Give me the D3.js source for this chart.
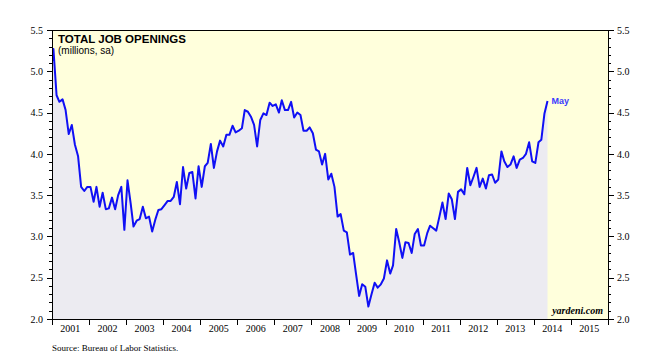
<!DOCTYPE html>
<html>
<head>
<meta charset="utf-8">
<script src="https://cdn.jsdelivr.net/npm/d3@7"></script>
<style>
  body { margin: 0; background: #fff; }
  svg { display: block; }
  .tick text { font-family: "Liberation Serif", "Times New Roman", serif; font-size: 10px; fill: #000; }
</style>
</head>
<body>
<div id="chart"></div>
<script>
// Total job openings, monthly, millions (Dec 2000 - May 2014)
var firstMonth = new Date(2000, 11, 15);
var openings = [
  4.93,
  5.27, 4.71, 4.63, 4.66, 4.53, 4.24, 4.35, 4.11, 3.97, 3.60, 3.55, 3.60,
  3.60, 3.42, 3.60, 3.36, 3.53, 3.33, 3.34, 3.47, 3.33, 3.50, 3.60, 3.08,
  3.68, 3.40, 3.12, 3.19, 3.21, 3.36, 3.22, 3.24, 3.06, 3.20, 3.32, 3.33,
  3.38, 3.43, 3.43, 3.48, 3.66, 3.39, 3.84, 3.58, 3.77, 3.78, 3.46, 3.85,
  3.60, 3.85, 3.89, 4.12, 3.83, 4.03, 4.16, 4.09, 4.23, 4.23, 4.34, 4.26,
  4.28, 4.31, 4.53, 4.51, 4.45, 4.35, 4.09, 4.41, 4.49, 4.47, 4.62, 4.58,
  4.60, 4.50, 4.65, 4.53, 4.53, 4.63, 4.44, 4.50, 4.47, 4.28, 4.28, 4.32,
  4.25, 4.05, 4.03, 3.87, 4.00, 3.69, 3.76, 3.60, 3.24, 3.27, 3.07, 3.05,
  2.78, 2.80, 2.55, 2.28, 2.42, 2.39, 2.15, 2.30, 2.44, 2.38, 2.42, 2.49,
  2.71, 2.55, 2.65, 3.09, 2.93, 2.74, 2.93, 2.92, 2.80, 3.03, 3.09, 2.89,
  2.89, 3.04, 3.13, 3.10, 3.07, 3.24, 3.41, 3.21, 3.52, 3.45, 3.21, 3.54,
  3.57, 3.51, 3.83, 3.62, 3.72, 3.83, 3.60, 3.70, 3.58, 3.74, 3.75, 3.65,
  3.69, 4.03, 3.91, 3.84, 3.87, 3.97, 3.83, 3.93, 3.95, 4.00, 4.14, 3.91,
  3.89, 4.14, 4.17, 4.49, 4.64
];
var years = [2001, 2002, 2003, 2004, 2005, 2006, 2007, 2008, 2009, 2010, 2011, 2012, 2013, 2014, 2015];
var yMajor = [2.0, 2.5, 3.0, 3.5, 4.0, 4.5, 5.0, 5.5];
var yMinor = d3.range(20, 56).map(d => d / 10);

var svgWidth = 645;
var svgHeight = 361;
var margin = { top: 30, right: 37, bottom: 42, left: 52 };
var width = svgWidth - margin.left - margin.right;
var height = svgHeight - margin.top - margin.bottom;

var data = openings.map(function (v, i) {
  return { date: new Date(firstMonth.getFullYear(), firstMonth.getMonth() + i, 15), value: v };
});

var svg = d3.select("#chart")
  .append("svg")
  .attr("width", svgWidth)
  .attr("height", svgHeight);

var chartGroup = svg.append("g")
  .attr("transform", `translate(${margin.left}, ${margin.top})`);

var xScale = d3.scaleTime()
  .domain([new Date(2001, 0, 1), new Date(2016, 0, 1)])
  .range([0, width]);

var yScale = d3.scaleLinear()
  .domain([2, 5.5])
  .range([height, 0]);

// plot background
chartGroup.append("rect")
  .attr("width", width)
  .attr("height", height)
  .attr("fill", "#ffffdc");

svg.append("clipPath").attr("id", "clip")
  .append("rect").attr("width", width).attr("height", height);

var plot = chartGroup.append("g").attr("clip-path", "url(#clip)");

var area = d3.area()
  .x(d => xScale(d.date))
  .y0(height)
  .y1(d => yScale(d.value));

plot.append("path")
  .datum(data)
  .attr("d", area)
  .attr("fill", "#ecebf1");

var line = d3.line()
  .x(d => xScale(d.date))
  .y(d => yScale(d.value));

plot.append("path")
  .datum(data)
  .attr("d", line)
  .attr("fill", "none")
  .attr("stroke", "#1010f5")
  .attr("stroke-width", 2)
  .attr("stroke-linejoin", "round");

// frame
chartGroup.append("rect")
  .attr("width", width)
  .attr("height", height)
  .attr("fill", "none")
  .attr("stroke", "#000")
  .attr("stroke-width", 1)
  .attr("shape-rendering", "crispEdges");

// left axis
chartGroup.append("g")
  .call(d3.axisLeft(yScale).tickValues(yMinor).tickSize(3).tickFormat(""))
  .call(g => g.select(".domain").remove());
chartGroup.append("g")
  .call(d3.axisLeft(yScale).tickValues(yMajor).tickSize(5).tickPadding(4).tickFormat(d3.format(".1f")))
  .call(g => g.select(".domain").remove());

// right axis
chartGroup.append("g")
  .attr("transform", `translate(${width},0)`)
  .call(d3.axisRight(yScale).tickValues(yMinor).tickSize(3).tickFormat(""))
  .call(g => g.select(".domain").remove());
chartGroup.append("g")
  .attr("transform", `translate(${width},0)`)
  .call(d3.axisRight(yScale).tickValues(yMajor).tickSize(6).tickPadding(3).tickFormat(d3.format(".1f")))
  .call(g => g.select(".domain").remove());

// bottom axis: ticks at year boundaries, labels mid-year
var yearEdges = years.concat([2016]).map(y => new Date(y, 0, 1));
chartGroup.append("g")
  .attr("transform", `translate(0,${height})`)
  .call(d3.axisBottom(xScale).tickValues(yearEdges).tickSize(6).tickFormat(""))
  .call(g => g.select(".domain").remove());

chartGroup.append("g").selectAll("text.year")
  .data(years)
  .enter()
  .append("text")
  .attr("class", "year")
  .attr("x", d => xScale(new Date(d, 6, 1)))
  .attr("y", height + 13)
  .attr("text-anchor", "middle")
  .attr("font-family", "Liberation Serif, serif")
  .attr("font-size", "10px")
  .text(d => d);

chartGroup.selectAll(".tick line").attr("shape-rendering", "crispEdges");

// titles
chartGroup.append("text")
  .attr("x", 6)
  .attr("y", 12.5)
  .attr("font-family", "Liberation Sans, Arial, sans-serif")
  .attr("font-size", "11.5px")
  .attr("font-weight", "700")
  .text("TOTAL JOB OPENINGS");

chartGroup.append("text")
  .attr("x", 6)
  .attr("y", 23.5)
  .attr("font-family", "Liberation Sans, Arial, sans-serif")
  .attr("font-size", "10px")
  .text("(millions, sa)");

// last value label
var last = data[data.length - 1];
chartGroup.append("text")
  .attr("x", xScale(last.date) + 4)
  .attr("y", yScale(last.value) + 3)
  .attr("font-family", "Liberation Sans, Arial, sans-serif")
  .attr("font-size", "9px")
  .attr("font-weight", "700")
  .attr("fill", "#3a3aff")
  .text("May");

chartGroup.append("text")
  .attr("x", width - 5)
  .attr("y", height - 5)
  .attr("text-anchor", "end")
  .attr("font-family", "Liberation Serif, serif")
  .attr("font-size", "10px")
  .attr("font-weight", "700")
  .attr("font-style", "italic")
  .text("yardeni.com");

svg.append("text")
  .attr("x", 52)
  .attr("y", 351)
  .attr("font-family", "Liberation Serif, serif")
  .attr("font-size", "9px")
  .text("Source: Bureau of Labor Statistics.");
</script>
</body>
</html>
